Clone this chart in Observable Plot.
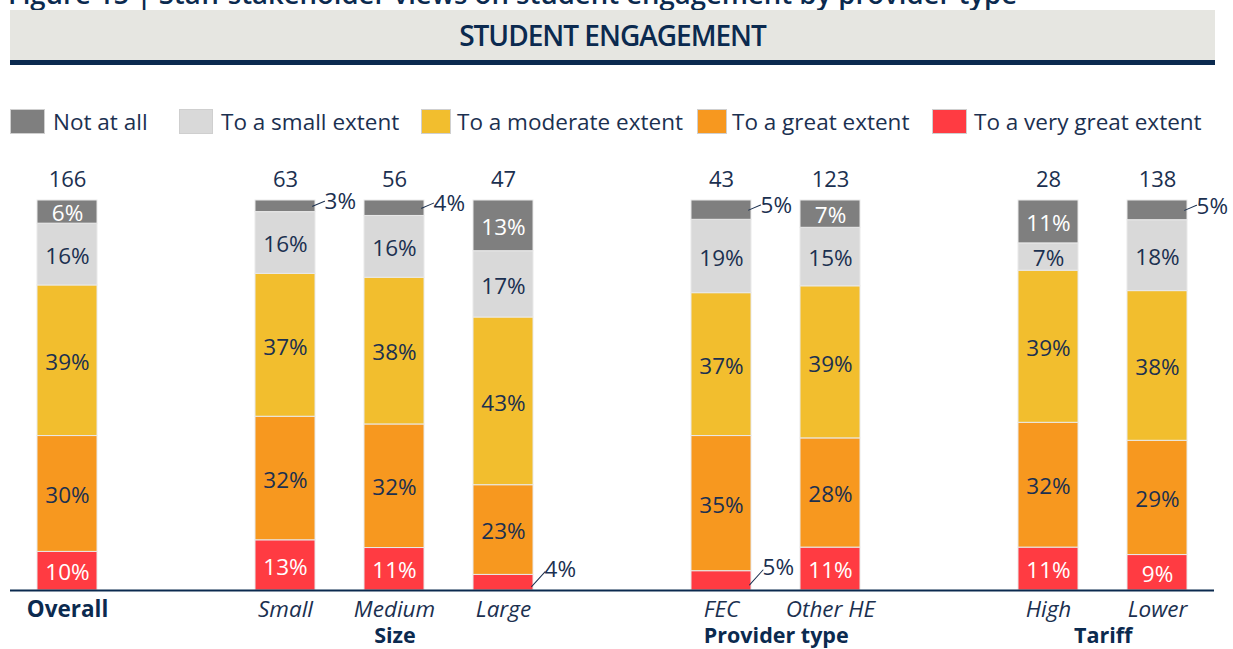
<!DOCTYPE html>
<html><head><meta charset="utf-8">
<script src="https://cdn.jsdelivr.net/npm/d3@7"></script>
<script src="https://cdn.jsdelivr.net/npm/@observablehq/plot@0.6"></script>
<style>
body{margin:0;background:#fff;font-family:"Open Sans",sans-serif;overflow:hidden}
#wrap{position:relative;width:1233px;height:649px;overflow:hidden}
#title{position:absolute;left:8px;top:-20px;font-size:27.5px;line-height:27px;font-weight:600;color:#0b2a4f;white-space:nowrap}
#banner{position:absolute;left:10px;top:10px;width:1205px;height:50px;background:#e6e6e1;border-bottom:5px solid #0b2a4f;display:flex;align-items:center;justify-content:center;font-size:28px;letter-spacing:-1px;font-weight:600;color:#0b2a4f}
.item{position:absolute;top:106px;display:flex;align-items:center;font-size:22.5px;color:#1b3050;white-space:nowrap}
.sw{height:25px;border:1px solid #cfcfcf;box-sizing:border-box}
#chart{position:absolute;left:0;top:150px}
</style></head>
<body><div id="wrap">
<div id="title">Figure 15 | Staff stakeholder views on student engagement by provider type</div>
<div id="banner">STUDENT ENGAGEMENT</div>
<div id="legend"></div>
<div id="chart"></div>
</div>
<script>
// ---- data ----
const categories = ["Overall", "Small", "Medium", "Large", "FEC", "Other HE", "High", "Lower"];
const groupOf    = ["", "Size", "Size", "Size", "Provider type", "Provider type", "Tariff", "Tariff"];
const counts     = [166, 63, 56, 47, 43, 123, 28, 138];
const levels     = ["Not at all", "To a small extent", "To a moderate extent", "To a great extent", "To a very great extent"];
const notAtAll   = [6, 3, 4, 13, 5, 7, 11, 5];
const smallExt   = [16, 16, 16, 17, 19, 15, 7, 18];
const moderate   = [39, 37, 38, 43, 37, 39, 39, 38];
const great      = [30, 32, 32, 23, 35, 28, 32, 29];
const veryGreat  = [10, 13, 11, 4, 5, 11, 11, 9];
const colors     = ["#7f7f7f", "#d9d9d9", "#f2be2e", "#f7981f", "#ff3b42"];

const navy = "#1b3050";
const series = [notAtAll, smallExt, moderate, great, veryGreat];
const bottomToTop = levels.slice().reverse();

// legend (HTML)
const legendPos = [[10, 35, 8], [179, 34, 8], [421, 30, 6], [697, 30, 5], [932, 35, 7]];
const legend = document.getElementById("legend");
levels.forEach((lv, i) => {
  const [left, w, gap] = legendPos[i];
  const it = document.createElement("div");
  it.className = "item"; it.style.left = left + "px";
  it.innerHTML = `<span class="sw" style="width:${w}px;background:${colors[i]};margin-right:${gap}px"></span><span>${lv}</span>`;
  legend.appendChild(it);
});

// rows, bottom to top
const rows = [];
categories.forEach((c, ci) => {
  bottomToTop.forEach(lv => {
    const li = levels.indexOf(lv);
    rows.push({category: c, level: lv, value: series[li][ci]});
  });
});

// x domain with spacer slots between groups
const xDomain = [];
categories.forEach((c, i) => {
  if (i > 0 && groupOf[i] !== groupOf[i - 1]) xDomain.push("·" + i);
  xDomain.push(c);
});

const W = 1233, H = 499, mL = 10, mR = 19, mT = 50, mB = 59;
const xOpts = {type: "band", domain: xDomain, range: [mL, W - mR], paddingInner: 0.45, paddingOuter: 0.225};
const xs = Plot.scale({x: xOpts});
const bw = xs.bandwidth;
const center = c => xs.apply(c) + bw / 2;

const groups = [...new Set(groupOf.filter(g => g))];
const groupMarks = groups.map(g => {
  const members = categories.filter((c, i) => groupOf[i] === g);
  const cx = d3.mean(members, center);
  return Plot.text([g], {x: () => members[0], frameAnchor: "bottom", lineAnchor: "middle", dy: 46, dx: cx - center(members[0]),
    fontWeight: "bold", fontSize: 21.5, fill: "#0b2a4f"});
});

const stk = (o) => Plot.stackY({x: "category", y: "value", z: "level", order: bottomToTop, offset: "normalize", ...o});
const isSmall = d => d.value <= 5;
const isTop = d => d.level === levels[0];
const leaderShape = {draw(ctx, l) { ctx.moveTo(0, 0); ctx.lineTo(0, -l); }};

const chart = Plot.plot({
  width: W, height: H,
  marginLeft: mL, marginRight: mR, marginTop: mT, marginBottom: mB,
  style: {fontFamily: "Open Sans, sans-serif", fontSize: "22px", color: navy, background: "transparent"},
  x: {...xOpts, axis: null},
  y: {domain: [0, 1], axis: null},
  color: {domain: levels, range: colors},
  marks: [
    Plot.barY(rows, stk({fill: "level", stroke: "#e9e9e9", strokeWidth: 1})),
    Plot.text(rows, stk({text: d => isSmall(d) ? null : d.value + "%", dy: 2,
      fill: d => (d.level === levels[0] || d.level === levels[4]) ? "#ffffff" : navy, fontSize: 22.5})),
    // outside labels (top)
    Plot.text(rows, stk({text: d => isSmall(d) && isTop(d) ? d.value + "%" : null,
      textAnchor: "start", dx: bw / 2 + 9, dy: -4, fill: navy, fontSize: 22.5})),
    Plot.vector(rows, stk({anchor: "start", shape: leaderShape, length: 13, rotate: 67, dx: bw / 2 - 3,
      stroke: d => isSmall(d) && isTop(d) ? navy : "none", strokeWidth: 1})),
    // outside labels (bottom)
    Plot.text(rows, stk({text: d => isSmall(d) && !isTop(d) ? d.value + "%" : null,
      textAnchor: "start", dx: bw / 2 + 11, dy: -13, fill: navy, fontSize: 22.5})),
    Plot.vector(rows, stk({anchor: "start", shape: leaderShape, length: 20, rotate: 42, dx: bw / 2 - 2, dy: 4,
      stroke: d => isSmall(d) && !isTop(d) ? navy : "none", strokeWidth: 1})),
    Plot.ruleY([0], {stroke: "#0b2a4f", strokeWidth: 2}),
    // counts
    Plot.text(categories, {x: d => d, text: (d, i) => String(counts[i]), frameAnchor: "top", lineAnchor: "middle", dy: -21, fill: navy, fontSize: 22}),
    // category labels
    Plot.text(categories.filter((c, i) => !groupOf[i]), {x: d => d, frameAnchor: "bottom", lineAnchor: "middle", dy: 19, fontWeight: "bold", fontSize: 22.5, fill: "#0b2a4f"}),
    Plot.text(categories.filter((c, i) => groupOf[i]), {x: d => d, frameAnchor: "bottom", lineAnchor: "middle", dy: 19, fontStyle: "italic", fontSize: 22.5, fill: navy}),
    ...groupMarks
  ]
});
document.getElementById("chart").appendChild(chart);
</script>
</body></html>
